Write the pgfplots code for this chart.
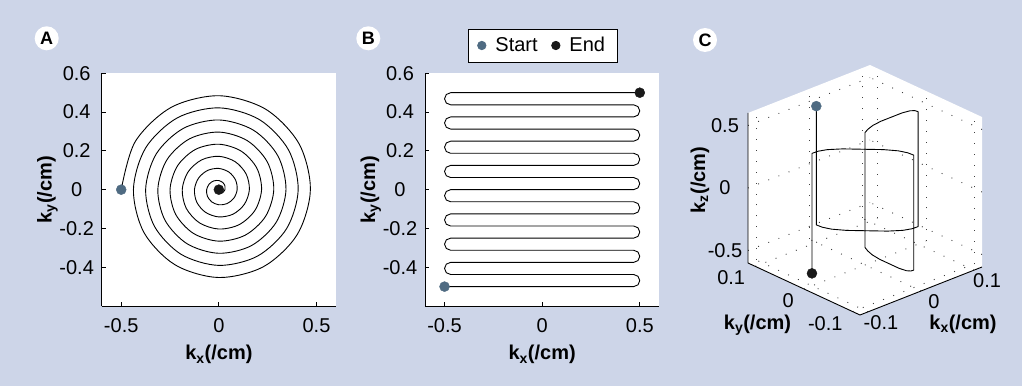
\documentclass[border=0pt]{standalone}
\usepackage{fontspec}
\setmainfont{Liberation Sans}
\usepackage{pgfplots}
\pgfplotsset{compat=1.18}
\definecolor{bg}{RGB}{205,213,232}
\definecolor{startcol}{RGB}{79,107,130}
\definecolor{endcol}{RGB}{25,25,25}
\newcommand{\tfont}{\fontsize{20}{24}\selectfont}
\newcommand{\lfont}{\bfseries\fontsize{20}{24}\selectfont}
\pgfplotsset{
  panel2d/.style={
    scale only axis, width=234.3pt, height=232.7pt,
    xmin=-0.6, xmax=0.6, ymin=-0.6, ymax=0.6,
    axis x line*=bottom, axis y line*=left,
    axis line style={black, line width=0.9pt},
    axis background/.style={fill=white},
    tick align=inside, major tick length=4pt,
    tick style={black, line width=0.9pt},
    xtick={-0.5,0,0.5}, xticklabels={-0.5,0,0.5},
    ytick={-0.4,-0.2,0,0.2,0.4,0.6}, yticklabels={-0.4,-0.2,0,0.2,0.4,0.6},
    tick label style={font=\tfont, inner sep=0pt},
    xticklabel style={anchor=north, yshift=-12pt},
    yticklabel style={anchor=center, xshift=-25pt},
    every axis x label/.style={at={(axis description cs:0.5,-0.232)}, anchor=base, font=\lfont},
    every axis y label/.style={at={(axis description cs:-0.2134,0.5)}, anchor=base, rotate=90, font=\lfont},
    clip=false,
  }
}
\begin{document}
\begin{tikzpicture}
\useasboundingbox (0,0) rectangle (1022pt,386pt);
\fill[bg] (0,0) rectangle (1022pt,386pt);

% ---------------- Panel A ----------------
\begin{axis}[panel2d, at={(101.7pt,80pt)}, anchor=south west,
  xlabel={k\textsubscript{x}(/cm)}, ylabel={k\textsubscript{y}(/cm)}]
\addplot[black, line width=0.9pt, smooth, tension=0.53, data cs=polar, forget plot] coordinates {
(180,0.5) (150,0.4948) (120,0.4896) (90,0.4844) (60,0.4792) (30,0.4740) (0,0.4688) (-30,0.4635)
(-60,0.4583) (-90,0.4531) (-120,0.4479) (-150,0.4427) (-180,0.4375) (-210,0.4323) (-240,0.4271)
(-270,0.4219) (-300,0.4167) (-330,0.4115) (-360,0.4063) (-390,0.4010) (-420,0.3958) (-450,0.3906)
(-480,0.3854) (-510,0.3802) (-540,0.375) (-570,0.3698) (-600,0.3646) (-630,0.3594) (-660,0.3542)
(-690,0.3490) (-720,0.3438) (-750,0.3385) (-780,0.3333) (-810,0.3281) (-840,0.3229) (-870,0.3177)
(-900,0.3125) (-930,0.3073) (-960,0.3021) (-990,0.2969) (-1020,0.2917) (-1050,0.2865) (-1080,0.2813)
(-1110,0.2760) (-1140,0.2708) (-1170,0.2656) (-1200,0.2604) (-1230,0.2552) (-1260,0.25) (-1290,0.2448)
(-1320,0.2396) (-1350,0.2344) (-1380,0.2292) (-1410,0.2240) (-1440,0.2188) (-1470,0.2135) (-1500,0.2083)
(-1530,0.2031) (-1560,0.1979) (-1590,0.1927) (-1620,0.1875) (-1650,0.1823) (-1680,0.1771) (-1710,0.1719)
(-1740,0.1667) (-1770,0.1615) (-1800,0.1563) (-1830,0.1510) (-1860,0.1458) (-1890,0.1406) (-1920,0.1354)
(-1950,0.1302) (-1980,0.125) (-2010,0.1198) (-2040,0.1146) (-2070,0.1094) (-2100,0.1042) (-2130,0.0990)
(-2160,0.0938) (-2190,0.0885) (-2220,0.0833) (-2250,0.0781) (-2280,0.0729) (-2310,0.0677) (-2340,0.0625)
(-2370,0.0573) (-2400,0.0521) (-2430,0.0469) (-2460,0.0417) (-2490,0.0365) (-2520,0.0313) (-2550,0.0260)
(-2580,0.0208) (-2610,0.0156) (-2640,0.0104) (-2670,0.0052) (-2700,0)
};
\addplot[only marks, mark=*, mark size=5pt, startcol, forget plot] coordinates {(-0.5,0)};
\addplot[only marks, mark=*, mark size=5pt, endcol, forget plot] coordinates {(0,0)};
\end{axis}

% ---------------- Panel B ----------------
\begin{axis}[panel2d, at={(425pt,80pt)}, anchor=south west,
  xlabel={k\textsubscript{x}(/cm)}, ylabel={k\textsubscript{y}(/cm)},
  legend style={at={(axis description cs:0.502,1.1195)}, anchor=center, draw=black, line width=0.8pt,
    fill=white, font=\tfont, legend columns=2, inner xsep=9pt, inner ysep=5.5pt,
    nodes={inner xsep=3pt, inner ysep=3pt},
    /tikz/every odd column/.append style={column sep=6pt},
    /tikz/every even column/.append style={column sep=10.6pt}},
  legend cell align=left]
\addplot[black, line width=0.9pt, line join=round, forget plot] coordinates {
(-0.5,-0.5) (0.46875,-0.5) (0.49085,-0.49085) (0.5,-0.46875) (0.49085,-0.44665) (0.46875,-0.4375)
(-0.46875,-0.4375) (-0.49085,-0.42835) (-0.5,-0.40625) (-0.49085,-0.38415) (-0.46875,-0.375)
(0.46875,-0.375) (0.49085,-0.36585) (0.5,-0.34375) (0.49085,-0.32165) (0.46875,-0.3125)
(-0.46875,-0.3125) (-0.49085,-0.30335) (-0.5,-0.28125) (-0.49085,-0.25915) (-0.46875,-0.25)
(0.46875,-0.25) (0.49085,-0.24085) (0.5,-0.21875) (0.49085,-0.19665) (0.46875,-0.1875)
(-0.46875,-0.1875) (-0.49085,-0.17835) (-0.5,-0.15625) (-0.49085,-0.13415) (-0.46875,-0.125)
(0.46875,-0.125) (0.49085,-0.11585) (0.5,-0.09375) (0.49085,-0.07165) (0.46875,-0.0625)
(-0.46875,-0.0625) (-0.49085,-0.05335) (-0.5,-0.03125) (-0.49085,-0.00915) (-0.46875,0)
(0.46875,0) (0.49085,0.00915) (0.5,0.03125) (0.49085,0.05335) (0.46875,0.0625)
(-0.46875,0.0625) (-0.49085,0.07165) (-0.5,0.09375) (-0.49085,0.11585) (-0.46875,0.125)
(0.46875,0.125) (0.49085,0.13415) (0.5,0.15625) (0.49085,0.17835) (0.46875,0.1875)
(-0.46875,0.1875) (-0.49085,0.19665) (-0.5,0.21875) (-0.49085,0.24085) (-0.46875,0.25)
(0.46875,0.25) (0.49085,0.25915) (0.5,0.28125) (0.49085,0.30335) (0.46875,0.3125)
(-0.46875,0.3125) (-0.49085,0.32165) (-0.5,0.34375) (-0.49085,0.36585) (-0.46875,0.375)
(0.46875,0.375) (0.49085,0.38415) (0.5,0.40625) (0.49085,0.42835) (0.46875,0.4375)
(-0.46875,0.4375) (-0.49085,0.44665) (-0.5,0.46875) (-0.49085,0.49085) (-0.46875,0.5)
(0.5,0.5)
};
\addplot[only marks, mark=*, mark size=5pt, startcol, forget plot] coordinates {(-0.5,-0.5)};
\addplot[only marks, mark=*, mark size=5pt, endcol, forget plot] coordinates {(0.5,0.5)};
\addlegendimage{legend image code/.code={\fill[startcol] (0pt,0pt) circle (4.2pt);}}
\addlegendentry{Start}
\addlegendimage{legend image code/.code={\fill[endcol] (0pt,0pt) circle (4.2pt);}}
\addlegendentry{End}
\end{axis}

% ---------------- Panel C ----------------
% white background planes of the 3D box
\fill[white] (748pt,123pt) -- (748pt,273pt) -- (870pt,321pt) -- (982pt,269pt) -- (982pt,119pt) -- (860pt,71pt) -- cycle;
\begin{axis}[at={(748pt,71pt)}, anchor=south west,
  x={(530.43pt,208.70pt)}, y={(-486.96pt,226.09pt)}, z={(0pt,125pt)},
  xmin=-0.115, xmax=0.115, ymin=-0.115, ymax=0.115, zmin=-0.6, zmax=0.6,
  clip=false,
  axis line style={draw=none},
  grid=major, major grid style={black!75, line width=0.9pt, dash pattern=on 0.9pt off 10pt},
  xtick={-0.1,0,0.1}, ytick={-0.1,0,0.1}, ztick={-0.5,0,0.5},
  xticklabels={-0.1,0,0.1}, yticklabels={-0.1,0,0.1}, zticklabels={-0.5,0,0.5},
  tick style={draw=none}, major tick length=0pt,
  tick label style={font=\tfont, inner sep=0pt},
  xticklabel style={anchor=center, xshift=13pt, yshift=-10.5pt},
  yticklabel style={anchor=east, xshift=-10pt, yshift=-11.7pt},
  zticklabel style={anchor=center, xshift=-23pt},
]
\draw[black, line width=0.9pt] (axis cs:-0.115,0.115,0.6) -- (axis cs:-0.115,0.115,-0.6)
  -- (axis cs:-0.115,-0.115,-0.6) -- (axis cs:0.115,-0.115,-0.6);
\addplot3[black, line width=0.9pt, line join=round] coordinates {
(0,0.1,0.49) (0,0.1,-0.46)
(0.006,0.094,-0.478) (0.015,0.085,-0.492) (0.03,0.07,-0.5) (0.05,0.05,-0.5) (0.07,0.03,-0.5)
(0.085,0.015,-0.492) (0.094,0.006,-0.478) (0.1,0,-0.46)
(0.1,0,0.46)
(0.094,0,0.478) (0.085,0,0.492) (0.07,0,0.5) (0.05,0,0.5) (0.03,0,0.5) (0.015,0,0.492) (0.006,0,0.478) (0,0,0.46)
(0,0,-0.46)
(0,-0.006,-0.478) (0,-0.015,-0.492) (0,-0.03,-0.5) (0,-0.05,-0.5) (0,-0.07,-0.5) (0,-0.085,-0.492) (0,-0.094,-0.478) (0,-0.1,-0.46)
(0,-0.1,0.46)
(-0.006,-0.094,0.478) (-0.015,-0.085,0.492) (-0.03,-0.07,0.5) (-0.05,-0.05,0.5) (-0.07,-0.03,0.5)
(-0.085,-0.015,0.492) (-0.094,-0.006,0.478) (-0.1,0,0.46)
(-0.1,0,-0.5)
};
\addplot3[only marks, mark=*, mark size=5pt, startcol] coordinates {(0,0.1,0.49)};
\addplot3[only marks, mark=*, mark size=5pt, endcol] coordinates {(-0.1,0,-0.5)};
\end{axis}

\node[anchor=base, inner sep=0pt, font=\lfont] at (757.5pt,56.5pt) {k\textsubscript{y}(/cm)};
\node[anchor=base, inner sep=0pt, font=\lfont] at (963pt,56.5pt) {k\textsubscript{x}(/cm)};
\node[anchor=base, inner sep=0pt, rotate=90, font=\lfont] at (705pt,206pt) {k\textsubscript{z}(/cm)};

\node[circle, fill=white, inner sep=0pt, minimum size=24pt, font=\bfseries\fontsize{18}{20}\selectfont] at (46.7pt,347.7pt) {A};
\node[circle, fill=white, inner sep=0pt, minimum size=24pt, font=\bfseries\fontsize{18}{20}\selectfont] at (368.3pt,347.7pt) {B};
\node[circle, fill=white, inner sep=0pt, minimum size=24pt, font=\bfseries\fontsize{18}{20}\selectfont] at (705pt,346pt) {C};
\end{tikzpicture}
\end{document}
